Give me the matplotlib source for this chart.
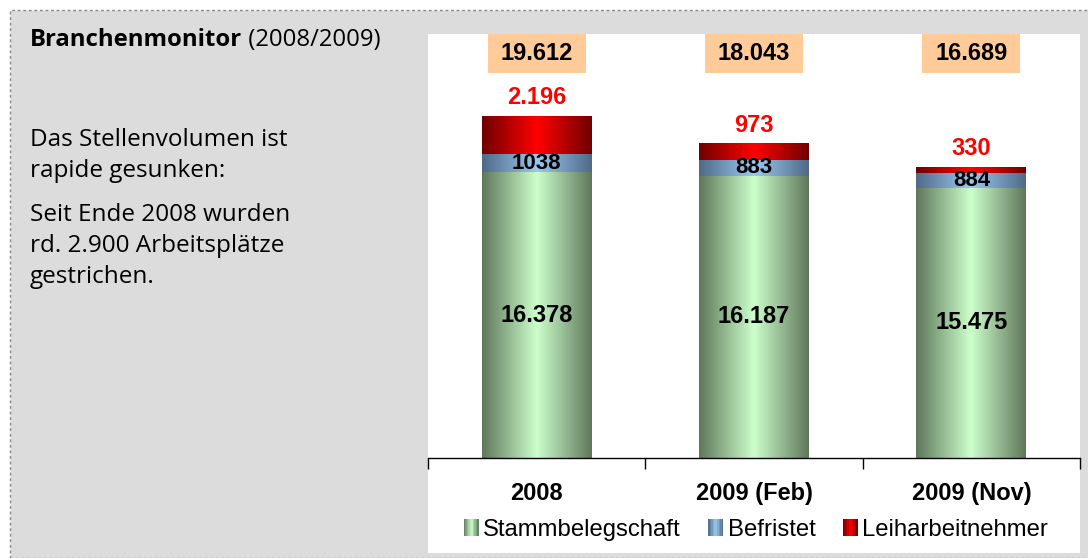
import numpy as np
import matplotlib
matplotlib.use("Agg")
import matplotlib.pyplot as plt
from matplotlib.colors import LinearSegmentedColormap
from matplotlib.patches import Rectangle, Patch
from matplotlib.legend_handler import HandlerBase

# data
categories = ["2008", "2009 (Feb)", "2009 (Nov)"]
stamm = [16378, 16187, 15475]
befristet = [1038, 883, 884]
leih = [2196, 973, 330]
totals = ["19.612", "18.043", "16.689"]
stamm_labels = ["16.378", "16.187", "15.475"]
befr_labels = ["1038", "883", "884"]
leih_labels = ["2.196", "973", "330"]
series_names = ["Stammbelegschaft", "Befristet", "Leiharbeitnehmer"]

W, H = 1088, 558
fig = plt.figure(figsize=(W / 100, H / 100), dpi=100)
fig.patch.set_facecolor("white")

# grey card with dotted border
fig.patches.append(Rectangle((10 / W, 0), 1.2, (H - 10) / H, transform=fig.transFigure,
                             facecolor="#dcdcdc", edgecolor="#888888", lw=1.0,
                             linestyle=(0, (2, 2)), zorder=0))
# white chart panel
fig.patches.append(Rectangle((428 / W, (H - 553) / H), (1080 - 428) / W, (553 - 34) / H,
                             transform=fig.transFigure, facecolor="white",
                             edgecolor="none", zorder=1))

left_font = ["Open Sans", "DejaVu Sans"]
title = fig.text(30 / W, 1 - 40 / H, "Branchenmonitor", fontsize=17.2, fontweight="bold",
                 family=left_font, va="center", ha="left")
body = [("Das Stellenvolumen ist", 140), ("rapide gesunken:", 171),
        ("Seit Ende 2008 wurden", 215), ("rd. 2.900 Arbeitsplätze", 246),
        ("gestrichen.", 277)]
for line, y in body:
    fig.text(30 / W, 1 - y / H, line, fontsize=17.5, family=left_font,
             va="center", ha="left")

ax = fig.add_axes([428 / W, (H - 458) / H, (1080 - 428) / W, (458 - 34) / H])
ax.set_zorder(5)
ax.set_facecolor("none")
x = np.arange(len(categories))
width = 0.505
ymax = 24300


def grad_cmap(edge, center):
    return LinearSegmentedColormap.from_list("g", [edge, center, edge])


cmaps = [grad_cmap("#5f775a", "#ccffcc"),
         grad_cmap("#4f6a88", "#9cc8f0"),
         grad_cmap("#700000", "#ff0000")]
grad = np.linspace(0, 1, 256).reshape(1, -1)

bottom = np.zeros(3)
for vals, cmap in zip([stamm, befristet, leih], cmaps):
    bars = ax.bar(x, vals, width, bottom=bottom, color="none", edgecolor="none")
    for b in bars:
        im = ax.imshow(grad, cmap=cmap, aspect="auto",
                       extent=[b.get_x(), b.get_x() + b.get_width(),
                               b.get_y(), b.get_y() + b.get_height()], zorder=2)
        im.set_clip_path(b)
    bottom = bottom + np.array(vals)

ax.set_xlim(-0.5, 2.5)
ax.set_ylim(0, ymax)

lab_font = ["Liberation Sans", "DejaVu Sans"]
xtrans = ax.get_xaxis_transform()
for i in range(3):
    ax.text(x[i], stamm[i] / 2, stamm_labels[i], ha="center", va="center",
            fontsize=17, fontweight="bold", family=lab_font, zorder=5)
    ax.text(x[i], stamm[i] + befristet[i] / 2, befr_labels[i], ha="center", va="center",
            fontsize=16, fontweight="bold", family=lab_font, zorder=5)
    top = stamm[i] + befristet[i] + leih[i]
    ax.text(x[i], top + 1030, leih_labels[i], ha="center", va="center",
            fontsize=17, fontweight="bold", color="#ff0000", family=lab_font, zorder=5)
    ax.add_patch(Rectangle((x[i] - 0.225, 0.908), 0.45, 0.092, transform=xtrans,
                           facecolor="#ffcc99", edgecolor="none", zorder=4, clip_on=False))
    ax.text(x[i], 0.954, totals[i], ha="center", va="center", transform=xtrans,
            fontsize=17, fontweight="bold", family=lab_font, zorder=5)

for s in ["top", "right", "left"]:
    ax.spines[s].set_visible(False)
ax.spines["bottom"].set_linewidth(1.0)
ax.set_yticks([])
ax.set_xticks([-0.5, 0.5, 1.5, 2.5])
ax.set_xticklabels([])
ax.tick_params(axis="x", direction="out", length=8, width=1, color="black")
ax.set_xticks(x, minor=True)
ax.set_xticklabels(categories, minor=True, fontsize=17, fontweight="bold",
                   family=lab_font)
ax.tick_params(axis="x", which="minor", length=0, pad=17)


class GradHandler(HandlerBase):
    def __init__(self, cmap):
        super().__init__()
        self.cmap = cmap

    def create_artists(self, legend, orig_handle, xdescent, ydescent, width, height,
                       fontsize, trans):
        n = 10
        arts = []
        for k in range(n):
            arts.append(Rectangle((-xdescent + width * k / n, -ydescent), width / n, height,
                                  facecolor=self.cmap((k + 0.5) / n), edgecolor="none",
                                  transform=trans))
        return arts


handles = [Patch() for _ in series_names]
fig.legend(handles, series_names, loc="center", bbox_to_anchor=(756 / W, 1 - 530 / H),
           ncol=3, frameon=False, handlelength=0.63, handleheight=0.72,
           handletextpad=0.18, columnspacing=1.15,
           handler_map={h: GradHandler(c) for h, c in zip(handles, cmaps)},
           prop={"family": lab_font, "size": 17.2})

# place the "(2008/2009)" part right after the bold title
fig.canvas.draw()
bb = title.get_window_extent().transformed(fig.transFigure.inverted())
fig.text(bb.x1, 1 - 40 / H, " (2008/2009)", fontsize=17.2, family=left_font,
         va="center", ha="left")

fig.savefig("out.png", dpi=100)
